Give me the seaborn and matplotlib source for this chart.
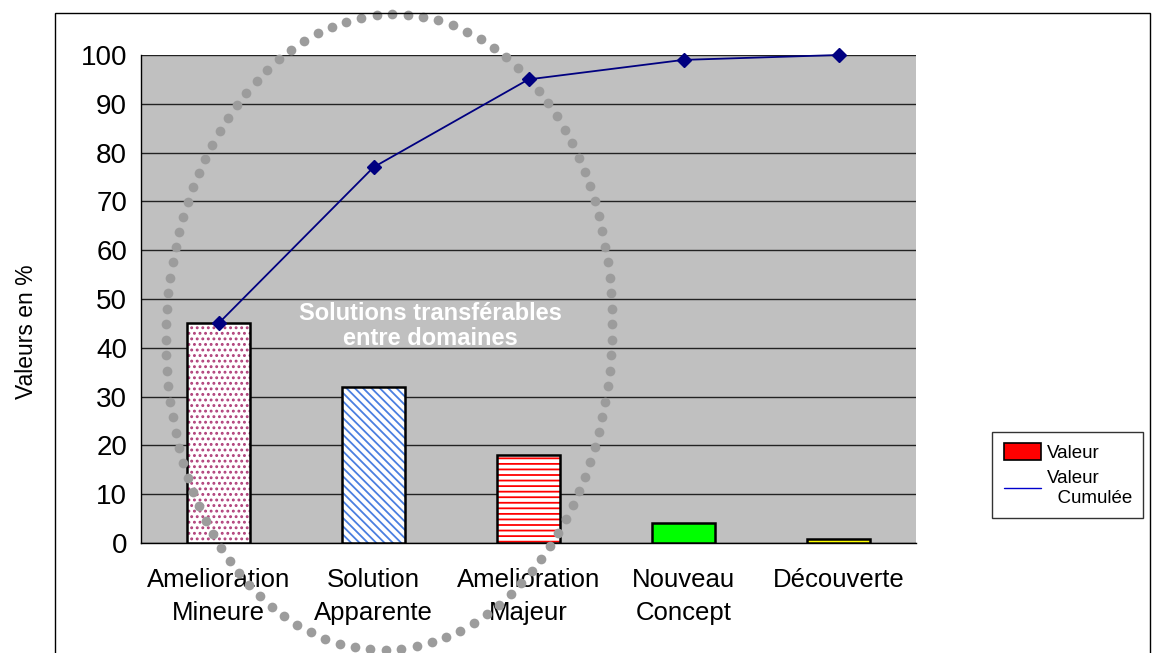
import numpy as np
import pandas as pd
import seaborn as sns
import matplotlib.pyplot as plt
from matplotlib.patches import Rectangle, Patch
from matplotlib.lines import Line2D
from matplotlib.transforms import IdentityTransform

# data
categories = ["Amelioration\nMineure", "Solution\nApparente", "Amelioration\nMajeur",
              "Nouveau\nConcept", "Découverte"]
values = [45, 32, 18, 4, 0.8]
cumulative = [45, 77, 95, 99, 100]

fills = ["white", "white", "white", "#00FF00", "#FFFF00"]
hatches = ["...", "\\\\\\\\", "---", None, None]
hatch_colors = ["#B0407A", "#4A7FE0", "#FF0000", "black", "black"]

sns.set_style("white")
plt.rcParams["font.family"] = ["Liberation Sans", "DejaVu Sans"]
plt.rcParams["hatch.linewidth"] = 1.3
plt.rcParams["text.color"] = "black"
plt.rcParams["xtick.color"] = "black"
plt.rcParams["ytick.color"] = "black"
plt.rcParams["axes.labelcolor"] = "black"

df = pd.DataFrame({"Categorie": categories, "Valeur": values})

fig = plt.figure(figsize=(11.57, 6.53), dpi=100)
ax = fig.add_axes([141 / 1157, 110 / 653, 775 / 1157, 488 / 653])
ax.set_facecolor("#C0C0C0")

sns.barplot(data=df, x="Categorie", y="Valeur", color="white", width=0.41,
            ax=ax, zorder=3)

# hatch layer then black outline
for i, bar in enumerate(ax.patches):
    bar.set_facecolor(fills[i])
    bar.set_linewidth(0)
    if hatches[i]:
        bar.set_hatch(hatches[i])
        bar.set_edgecolor(hatch_colors[i])
    ax.add_patch(Rectangle(bar.get_xy(), bar.get_width(), bar.get_height(),
                           fill=False, edgecolor="black", linewidth=1.8, zorder=4))

# cumulative line
ax.plot(range(len(categories)), cumulative, color="#000080", linewidth=1.3,
        marker="D", markersize=7, zorder=5, clip_on=False)

ax.set_xlim(-0.5, 4.5)
ax.set_ylim(0, 100)
ax.set_yticks(range(0, 101, 10))
ax.yaxis.grid(True, color="#222222", linewidth=1)
ax.set_axisbelow(True)
for s in ["top", "right"]:
    ax.spines[s].set_visible(False)
for s in ["left", "bottom"]:
    ax.spines[s].set_color("black")
    ax.spines[s].set_linewidth(1)

ax.set_xticks(np.arange(-0.5, 5, 1), minor=True)
ax.tick_params(axis="x", which="major", length=0, pad=18, labelsize=18.5)
ax.tick_params(axis="x", which="minor", length=10, color="black", width=1, direction="out")
ax.tick_params(axis="y", length=8, color="black", width=1, direction="out", labelsize=20, pad=2)
for lab in ax.get_xticklabels():
    lab.set_linespacing(1.45)
ax.set_xlabel("")
ax.set_ylabel("Valeurs en %", fontsize=16.5)
ax.yaxis.set_label_coords(-0.133, 0.434)

ax.text(1.37, 44.5, "Solutions transférables\nentre domaines", color="white",
        fontsize=17, fontweight="bold", ha="center", va="center",
        linespacing=1.12, zorder=6)

# dotted ellipse around the first three categories (pixel coordinates)
cx, cy, a, b, rot = 389, 321, 223, 318, np.deg2rad(-2)
t = np.linspace(0, 2 * np.pi, 4000)
ex = a * np.cos(t)
ey = b * np.sin(t)
px = cx + ex * np.cos(rot) - ey * np.sin(rot)
py = cy + ex * np.sin(rot) + ey * np.cos(rot)
seg = np.hypot(np.diff(px), np.diff(py))
arc = np.concatenate([[0], np.cumsum(seg)])
n_dots = int(arc[-1] // 15.5)
targets = np.linspace(0, arc[-1], n_dots, endpoint=False)
dx = np.interp(targets, arc, px)
dy = np.interp(targets, arc, py)
dots = Line2D(dx, dy, linestyle="none", marker="o", markersize=7,
              markerfacecolor="#9C9C9C", markeredgecolor="none",
              transform=IdentityTransform(), zorder=4.5)
dots.set_clip_on(False)
ax.add_artist(dots)

# outer frame
fig.add_artist(Rectangle((55 / 1157, -0.05), 1095 / 1157, 1.05 - 13 / 653,
                         transform=fig.transFigure, fill=False,
                         edgecolor="black", linewidth=1))

handles = [Patch(facecolor="#FF0000", edgecolor="black", linewidth=1.2),
           Line2D([0], [0], color="#0000CC", linewidth=1)]
leg = fig.legend(handles, ["Valeur", "Valeur\n  Cumulée"], loc="center left",
                 bbox_to_anchor=(983 / 1157, 1 - 475 / 653), fontsize=13.5,
                 frameon=True, fancybox=False, edgecolor="black",
                 handlelength=2.0, handleheight=1.0, handletextpad=0.3,
                 borderpad=0.6, labelspacing=0.45)
leg.get_frame().set_linewidth(1)

fig.savefig("out.png", dpi=100)
